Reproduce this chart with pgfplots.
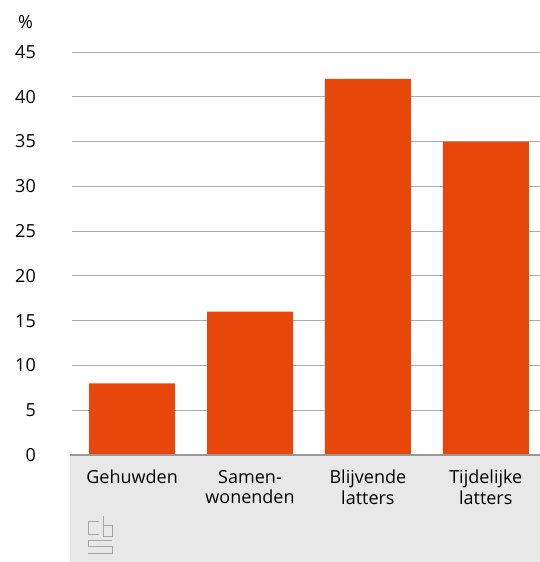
\documentclass[border=0pt]{standalone}
\usepackage{pgfplots}
\pgfplotsset{compat=1.18}
\usepackage{fontspec}
\setmainfont{Open Sans}
\definecolor{cbsorange}{HTML}{E8470C}
\definecolor{bandgray}{HTML}{E8E8E8}
\definecolor{gridgray}{HTML}{AAAAAA}
\definecolor{basegray}{HTML}{999999}
\begin{document}
\fontsize{18pt}{21pt}\selectfont
\begin{tikzpicture}[x=1pt,y=1pt]
\useasboundingbox (0,0) rectangle (540,562);
% grey band under the axis
\fill[bandgray] (70,0) rectangle (540,107);
\begin{axis}[
  at={(72pt,107pt)}, anchor=south west,
  scale only axis, width=468pt, height=403pt,
  xmin=-0.51, xmax=3.46, ymin=0, ymax=45,
  ytick={0,5,...,45},
  xtick={0,1,2,3},
  xticklabels={Gehuwden,Samen-\\wonenden,Blijvende\\latters,Tijdelijke\\latters},
  xticklabel style={align=center, anchor=north, yshift=-9pt, font=\fontsize{18pt}{20.5pt}\selectfont},
  yticklabel style={anchor=east, xshift=-30pt, font=\fontsize{18pt}{21pt}\selectfont},
  /pgf/number format/assume math mode=true,
  major tick length=0pt,
  axis line style={draw=none},
  ymajorgrids, grid style={gridgray, line width=0.8pt},
  bar width=86pt, ybar, bar shift=0pt,
  clip=false,
]
\addplot[fill=cbsorange, draw=none] coordinates {(0,8) (1,16) (2,42) (3,35)};
\node[anchor=west] at (rel axis cs:0,1) [xshift=-60pt, yshift=30pt] {\%};
\end{axis}
\draw[basegray, line width=2pt] (70,107) -- (540,107);
% CBS logo
\begin{scope}[draw=black!35, double=bandgray, double distance=2pt, line width=1pt]
\draw (99,40) -- (88,40) -- (88,27) -- (99,27);
\draw (103,46) -- (103,25) -- (112,25) -- (112,36) -- (103,36);
\draw (112,21) -- (88,21) -- (88,15) -- (112,15) -- (112,8) -- (88,8);
\end{scope}
\end{tikzpicture}
\end{document}
